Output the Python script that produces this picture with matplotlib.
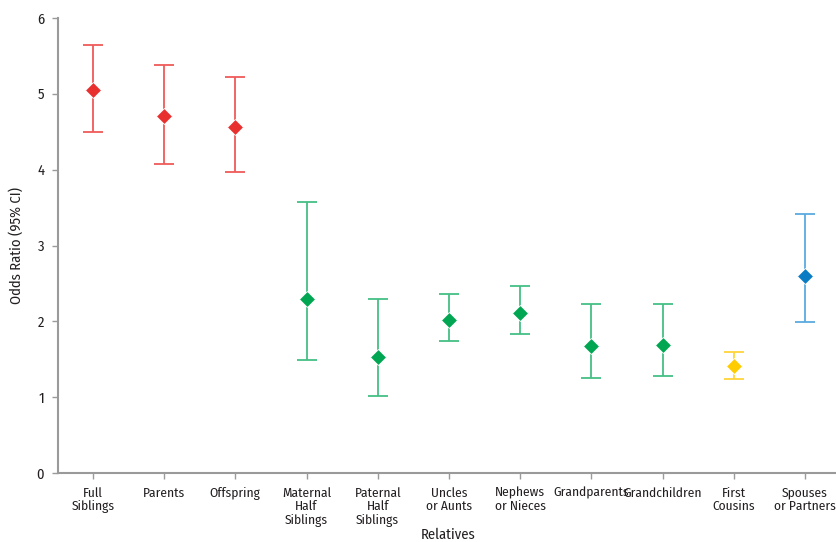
import numpy as np
import matplotlib.pyplot as plt

plt.rcParams['font.family'] = ['Fira Sans Condensed', 'Roboto Condensed', 'DejaVu Sans']

# Odds ratios with 95% CI by type of relative
relatives = ["Full\nSiblings", "Parents", "Offspring", "Maternal\nHalf\nSiblings",
             "Paternal\nHalf\nSiblings", "Uncles\nor Aunts", "Nephews\nor Nieces",
             "Grandparents", "Grandchildren", "First\nCousins", "Spouses\nor Partners"]
odds = [5.05, 4.71, 4.56, 2.29, 1.53, 2.02, 2.11, 1.67, 1.69, 1.41, 2.60]
ci_low = [4.50, 4.07, 3.97, 1.49, 1.02, 1.74, 1.83, 1.25, 1.28, 1.24, 1.99]
ci_high = [5.64, 5.38, 5.22, 3.57, 2.29, 2.36, 2.47, 2.23, 2.23, 1.60, 3.42]
groups = ["first"] * 3 + ["second"] * 6 + ["third"] + ["spouse"]

marker_colors = {"first": "#e8302f", "second": "#00a651", "third": "#ffcc00", "spouse": "#0a7cc4"}
bar_colors = {"first": "#f05a5a", "second": "#45bf85", "third": "#ffd43a", "spouse": "#5aaade"}

fig = plt.figure(figsize=(8.37, 5.42), dpi=100)
ax = fig.add_axes([58 / 837, 69 / 542, 1 - 58 / 837, (473 - 18) / 542])

x = np.arange(len(relatives))
for i in x:
    g = groups[i]
    ax.errorbar(x[i], odds[i], yerr=[[odds[i] - ci_low[i]], [ci_high[i] - odds[i]]],
                fmt="none", ecolor=bar_colors[g], elinewidth=1.3, capsize=7, capthick=1.3)
    ax.plot(x[i], odds[i], marker="D", markersize=8, color=marker_colors[g],
            markeredgecolor="white", markeredgewidth=0.6, zorder=3)

ax.set_xlim(-0.49, 10.45)
ax.set_ylim(0, 6)
ax.set_yticks(range(7))
ax.set_xticks(x)
ax.set_xticklabels(relatives, fontsize=9.6, color="#231f20", linespacing=1.1)
ax.tick_params(axis="y", labelsize=10.5, labelcolor="#231f20", pad=6)
ax.tick_params(axis="x", pad=6)
ax.tick_params(axis="both", color="#9a9a9a", length=4, width=1)

for side in ["top", "right"]:
    ax.spines[side].set_visible(False)
for side in ["left", "bottom"]:
    ax.spines[side].set_color("#9a9a9a")
    ax.spines[side].set_linewidth(1.5)

ax.set_ylabel("Odds Ratio (95% CI)", fontsize=10.5, color="#231f20", labelpad=9)
fig.text(448 / 837, 1 - 535 / 542, "Relatives", fontsize=10.5, color="#231f20",
         ha="center", va="center")

fig.savefig("out.png", dpi=100)
